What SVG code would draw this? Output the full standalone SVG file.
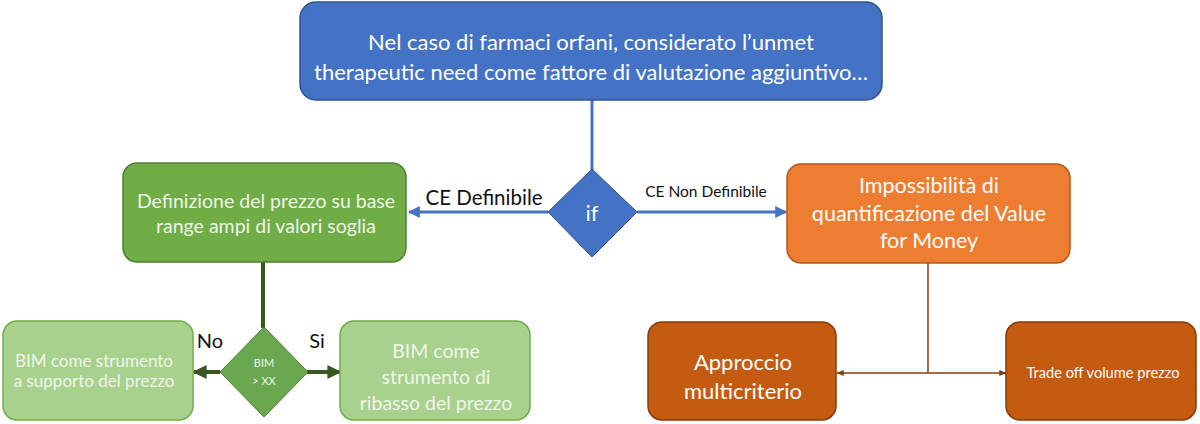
<svg xmlns="http://www.w3.org/2000/svg" width="1200" height="424" viewBox="0 0 1200 424">
<style>
text{font-family:Lato,"Open Sans","Liberation Sans",sans-serif;text-anchor:middle}
.w{fill:#ffffff}
.lg{fill:#EEF5E9}
.k{fill:#111111}
</style>
<defs>
<marker id="ab" viewBox="0 0 10 10" refX="9" refY="5" markerWidth="4" markerHeight="4" orient="auto"><path d="M0,0L10,5L0,10z" fill="#4472C4"/></marker>
<marker id="ag" viewBox="0 0 10 10" refX="9" refY="5" markerWidth="3.5" markerHeight="3.5" orient="auto"><path d="M0,0L10,5L0,10z" fill="#385723"/></marker>
<marker id="ao" viewBox="0 0 10 10" refX="9" refY="5" markerWidth="5" markerHeight="5" orient="auto"><path d="M0,1L10,5L0,9z" fill="#843C0C"/></marker>
</defs>
<rect width="1200" height="424" fill="#ffffff"/>
<g id="connectors" fill="none">
<line x1="592" y1="100" x2="592" y2="170" stroke="#4472C4" stroke-width="3"/>
<line x1="548" y1="212" x2="409" y2="212" stroke="#4472C4" stroke-width="3" marker-end="url(#ab)"/>
<line x1="637" y1="212" x2="786" y2="212" stroke="#4472C4" stroke-width="3" marker-end="url(#ab)"/>
<line x1="263" y1="262" x2="263" y2="328" stroke="#385723" stroke-width="4"/>
<line x1="220" y1="372" x2="194" y2="372" stroke="#385723" stroke-width="4" marker-end="url(#ag)"/>
<line x1="307" y1="372" x2="340" y2="372" stroke="#385723" stroke-width="4" marker-end="url(#ag)"/>
<line x1="928" y1="263" x2="928" y2="373" stroke="#843C0C" stroke-width="1.5"/>
<line x1="928" y1="373" x2="837" y2="373" stroke="#843C0C" stroke-width="1.5" marker-end="url(#ao)"/>
<line x1="928" y1="373" x2="1006" y2="373" stroke="#843C0C" stroke-width="1.5" marker-end="url(#ao)"/>
<text x="484" y="205" class="k" font-size="20.5">CE Definibile</text>
<text x="706" y="197" class="k" font-size="15.5">CE Non Definibile</text>
<text x="210" y="348" class="k" font-size="20">No</text>
<text x="317" y="348" class="k" font-size="20">Si</text>
</g>
<g id="top">
<rect x="300" y="2" width="582" height="98" rx="16" fill="#4472C4" stroke="#2F528F" stroke-width="1.5"/>
<text x="591" y="50" class="w" font-size="22">Nel caso di farmaci orfani, considerato l’unmet</text>
<text x="591" y="80" class="w" font-size="22">therapeutic need come fattore di valutazione aggiuntivo…</text>
</g>
<g id="if">
<polygon points="592,169 637,212 592,257 548,212" fill="#4472C4" stroke="#2F528F" stroke-width="1"/>
<text x="592" y="221" class="w" font-size="22">if</text>
</g>
<g id="definizione">
<rect x="123" y="163" width="283" height="99" rx="14" fill="#70AD47" stroke="#507E32" stroke-width="1.5"/>
<text x="266" y="208" class="lg" font-size="19.5">Definizione del prezzo su base</text>
<text x="266" y="233" class="lg" font-size="19.5">range ampi di valori soglia</text>
</g>
<g id="impossibilita">
<rect x="787" y="164" width="283" height="99" rx="14" fill="#ED7D31" stroke="#AE5A21" stroke-width="1.5"/>
<text x="929" y="193" class="w" font-size="21.5">Impossibilità di</text>
<text x="929" y="221" class="w" font-size="21.5">quantificazione del Value</text>
<text x="929" y="248" class="w" font-size="21.5">for Money</text>
</g>
<g id="bim">
<polygon points="264,327 308,372 264,417 220,372" fill="#6AA84F" stroke="#507E32" stroke-width="1"/>
<text x="264" y="367" class="lg" font-size="11">BIM</text>
<text x="264" y="385" class="lg" font-size="11">&gt; XX</text>
</g>
<g id="supporto">
<rect x="3" y="321" width="190" height="99" rx="14" fill="#A9D18E" stroke="#70AD47" stroke-width="1.5"/>
<text x="94" y="367" class="lg" font-size="17">BIM come strumento</text>
<text x="94" y="387" class="lg" font-size="17">a supporto del prezzo</text>
</g>
<g id="ribasso">
<rect x="340" y="321" width="190" height="99" rx="14" fill="#A9D18E" stroke="#70AD47" stroke-width="1.5"/>
<text x="436" y="358" class="lg" font-size="19.5">BIM come</text>
<text x="436" y="384" class="lg" font-size="19.5">strumento di</text>
<text x="436" y="410" class="lg" font-size="19.5">ribasso del prezzo</text>
</g>
<g id="multicriterio">
<rect x="648" y="322" width="188" height="98" rx="14" fill="#C55A11" stroke="#843C0C" stroke-width="1.5"/>
<text x="743" y="370" class="w" font-size="22">Approccio</text>
<text x="743" y="399" class="w" font-size="22">multicriterio</text>
</g>
<g id="tradeoff">
<rect x="1006" y="322" width="190" height="98" rx="14" fill="#C55A11" stroke="#843C0C" stroke-width="1.5"/>
<text x="1103" y="378" class="w" font-size="14.6">Trade off volume prezzo</text>
</g>
</svg>
